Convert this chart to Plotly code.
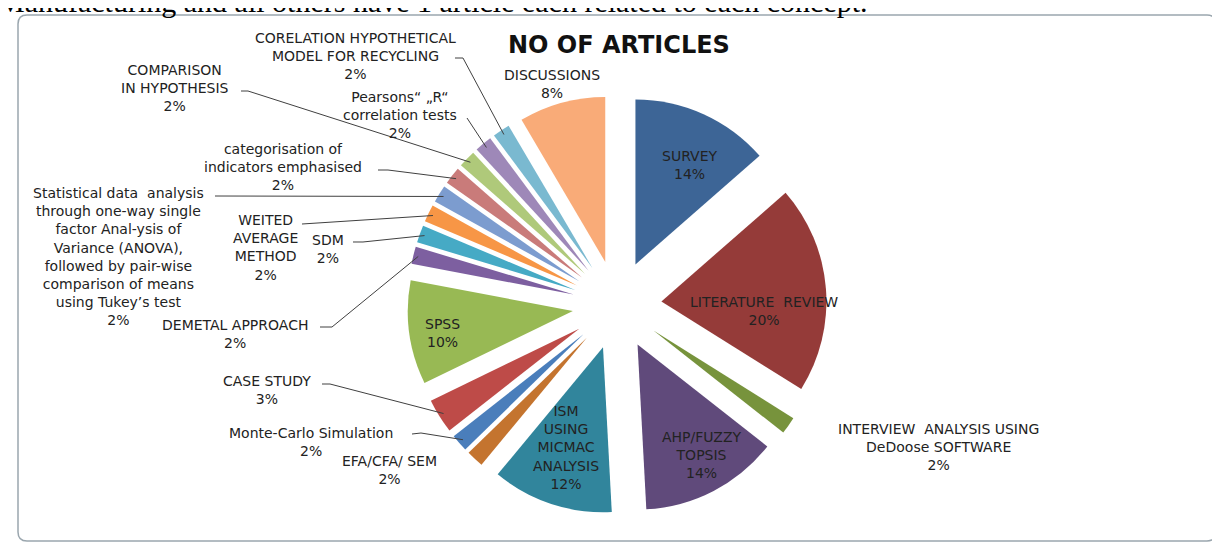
import numpy as np
import plotly.graph_objects as go

W, H = 1220, 550
OFF = 8  # the page body adds an 8px margin, so positions are shifted back by it

# data
methods = [
    "SURVEY", "LITERATURE  REVIEW",
    "INTERVIEW  ANALYSIS USING<br>DeDoose SOFTWARE",
    "AHP/FUZZY<br>TOPSIS", "ISM<br>USING<br>MICMAC<br>ANALYSIS",
    "EFA/CFA/ SEM", "Monte-Carlo Simulation", "CASE STUDY", "SPSS",
    "DEMETAL APPROACH", "SDM", "WEITED<br>AVERAGE<br>METHOD",
    "Statistical data  analysis<br>through one-way single<br>factor Anal-ysis of<br>"
    "Variance (ANOVA),<br>followed by pair-wise<br>comparison of means<br>using Tukey’s test",
    "categorisation of<br>indicators emphasised",
    "COMPARISON<br>IN HYPOTHESIS",
    "Pearsons“ „R“<br>correlation tests",
    "CORELATION HYPOTHETICAL<br>MODEL FOR RECYCLING",
    "DISCUSSIONS",
]
articles = [8, 12, 1, 8, 7, 1, 1, 2, 6, 1, 1, 1, 1, 1, 1, 1, 1, 5]
colors = ["#3d6596", "#953b39", "#77933c", "#604a7b", "#31859c", "#c4742f",
          "#4a7ebb", "#be4b48", "#98b954", "#7d5fa0", "#46aac5", "#f79646",
          "#7c9ccf", "#c97b7a", "#afc97a", "#9e88b8", "#7ab9d0", "#f9ab78"]

# pie geometry (page pixels)
cx, cy, r, pull = 617, 305, 165, 0.27
half = r * (1 + pull)


def px_(x):
    return (x - OFF) / W


def py_(y):
    return 1 - (y - OFF) / H


dom_x = [px_(cx - half), px_(cx + half)]
dom_y = [py_(cy + half), py_(cy - half)]

font = "DejaVu Sans"
txt = "#222222"

fig = go.Figure(go.Pie(
    labels=methods, values=articles, sort=False, direction="clockwise",
    rotation=0, pull=[pull] * len(articles),
    marker=dict(colors=colors, line=dict(width=0)),
    textinfo="none", domain=dict(x=dom_x, y=dom_y),
    hoverinfo="skip", showlegend=False))

# label layout: slice -> (text centre, leader start, elbow)
label_pos = {
    0: ((690, 165), None, None),
    1: ((764, 311), None, None),
    3: ((701, 455), None, None),
    4: ((566, 447), None, None),
    8: ((442, 333), None, None),
    16: ((355, 56), (455, 58), (463, 58)),
    15: ((400, 115), (467, 118), None),
    14: ((175, 88), (241, 91), (248, 91)),
    13: ((283, 167), (378, 170), (388, 170)),
    12: ((118, 256), (215, 196), None),
    11: ((265, 248), (302, 224), None),
    10: ((328, 249), (353, 242), (363, 242)),
    9: ((235, 334), (320, 327), (332, 327)),
    7: ((267, 390), (322, 384), (330, 384)),
    6: ((311, 442), (412, 434), (421, 433)),
    5: ((389, 470), None, None),
    2: ((938, 447), None, None),
    17: ((552, 84), None, None),
}

total = sum(articles)
cum = np.cumsum([0] + articles)

annotations = []
shapes = []
for i, (pos, start, elbow) in label_pos.items():
    annotations.append(dict(
        x=px_(pos[0]), y=py_(pos[1]), xref="paper", yref="paper",
        xanchor="center", yanchor="middle",
        text=f"{methods[i]}<br>{articles[i] / total:.0%}", showarrow=False,
        font=dict(family=font, size=14, color=txt), align="center"))
    if start is None:
        continue
    theta = np.radians((cum[i] + articles[i] / 2) / total * 360)
    d = pull * r + 0.97 * r
    end = (cx + d * np.sin(theta), cy - d * np.cos(theta))
    pts = [start] + ([elbow] if elbow else []) + [end]
    path = "M " + " L ".join(f"{px_(x):.5f},{py_(y):.5f}" for x, y in pts)
    shapes.append(dict(type="path", xref="paper", yref="paper", path=path,
                       line=dict(color="#404040", width=1)))

# chart area border with rounded corners
x0, y0, x1, y1, k = px_(18), py_(15), px_(1216), py_(541), 9
kx, ky = k / W, k / H
border = (f"M {x0 + kx},{y0} L {x1 - kx},{y0} Q {x1},{y0} {x1},{y0 - ky} "
          f"L {x1},{y1 + ky} Q {x1},{y1} {x1 - kx},{y1} L {x0 + kx},{y1} "
          f"Q {x0},{y1} {x0},{y1 + ky} L {x0},{y0 - ky} Q {x0},{y0} {x0 + kx},{y0} Z")
shapes.insert(0, dict(type="path", xref="paper", yref="paper", path=border,
                      line=dict(color="#9aa6ae", width=1.5), layer="below"))

annotations.append(dict(
    x=px_(619), y=py_(45), xref="paper", yref="paper", xanchor="center", yanchor="middle",
    text="<b>NO OF ARTICLES</b>", showarrow=False,
    font=dict(family=font, size=24, color="#111111")))
annotations.append(dict(
    x=px_(-4), y=py_(2), xref="paper", yref="paper", xanchor="left", yanchor="middle",
    text="Manufacturing and all others have 1 article each related to each concept.",
    showarrow=False, font=dict(family="Liberation Serif", size=30, color="#000000")))

fig.update_layout(width=W, height=H, margin=dict(l=0, r=0, t=0, b=0),
                  paper_bgcolor="white", plot_bgcolor="white",
                  annotations=annotations, shapes=shapes)
fig.write_html("out.html")
